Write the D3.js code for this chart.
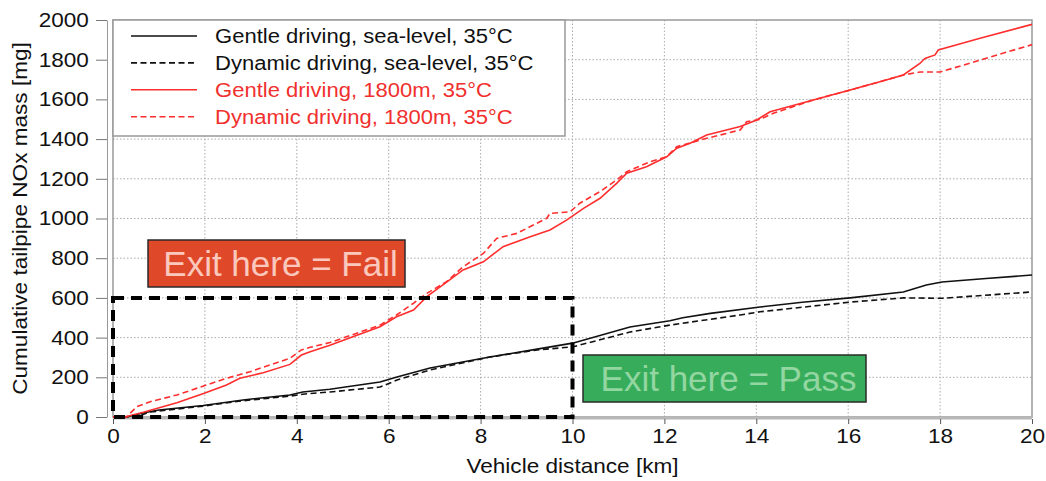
<!DOCTYPE html>
<html>
<head>
<meta charset="utf-8">
<script src="https://cdn.jsdelivr.net/npm/d3@7"></script>
<style>
  body { margin: 0; background: #fff; }
  svg { display: block; }
  text { font-family: "Liberation Sans", Arial, sans-serif; }
</style>
</head>
<body>
<div id="chart"></div>
<script>
// [km, mg]
const gentleSea = [[0,0],[0.3,0],[0.65,20],[1,35],[1.96,58],[2.83,86],[3.85,111],[4.13,126],[4.72,140],
  [5.81,176],[6.18,202],[6.9,247],[8.2,302],[9.23,342],[10,372],[11.25,453],[12.12,485],[12.4,500],
  [13,522],[14.08,554],[15,578],[16.04,600],[17.2,630],[17.7,665],[18.04,680],[19,698],[20,715]];
const dynamicSea = [[0,0],[0.5,0],[0.8,25],[1.96,55],[2.83,82],[3.85,105],[4.13,115],[4.72,126],
  [5.81,151],[6.18,186],[6.9,237],[8.2,302],[9.23,338],[10,353],[11.25,428],[12.12,463],[13.65,514],
  [14.08,530],[16.04,579],[17.2,600],[18.04,598],[20,630]];
const gentleAlt = [[0,0],[0.25,0],[0.66,24],[1.39,72],[1.97,118],[2.47,161],[2.76,195],[3.27,223],
  [3.85,265],[4.1,312],[4.29,329],[4.72,362],[5.81,455],[6.17,505],[6.54,539],[6.83,606],[7.12,656],
  [7.62,741],[8.06,782],[8.49,858],[9.08,908],[9.51,942],[9.87,992],[10.24,1051],[10.6,1102],
  [10.96,1177],[11.18,1228],[11.61,1261],[12.05,1311],[12.27,1354],[12.56,1379],[12.92,1421],
  [13.65,1463],[14.01,1496],[14.3,1538],[15.24,1597],[16.04,1647],[16.69,1689],[17.2,1723],
  [17.56,1781],[17.67,1806],[17.89,1824],[17.96,1849],[18.87,1908],[20,1978]];
const dynamicAlt = [[0,0],[0.3,0],[0.37,18],[0.52,52],[0.81,77],[1.39,111],[1.97,156],[2.47,195],
  [2.98,228],[3.85,296],[4.1,338],[4.29,351],[4.72,375],[5.81,463],[6.17,514],[6.54,573],[6.83,623],
  [7.26,682],[7.62,757],[8.06,824],[8.35,900],[8.79,925],[9.44,1001],[9.51,1026],[9.95,1034],
  [10.16,1077],[10.6,1136],[10.96,1194],[11.18,1236],[11.69,1286],[12.05,1311],[12.27,1362],
  [12.92,1404],[13.65,1446],[13.79,1488],[14.08,1499],[14.37,1530],[15.24,1597],[16.04,1647],
  [16.69,1689],[17.2,1723],[17.56,1738],[18.0,1738],[18.87,1798],[20,1876]];

const seriesNames = ["Gentle driving, sea-level, 35°C", "Dynamic driving, sea-level, 35°C",
  "Gentle driving, 1800m, 35°C", "Dynamic driving, 1800m, 35°C"];
const xTicks = [0, 2, 4, 6, 8, 10, 12, 14, 16, 18, 20];
const yTicks = [0, 200, 400, 600, 800, 1000, 1200, 1400, 1600, 1800, 2000];
const limitKm = 10, limitMg = 600;

const width = 1046, height = 481;
const margin = {top: 20, right: 14, bottom: 64, left: 113};
const red = "#ff2e2e";
const stretch = "scale(1.13,1)"; // source figure text is a bit wide

const series = [
  {name: seriesNames[0], data: gentleSea, color: "#111", dash: null},
  {name: seriesNames[1], data: dynamicSea, color: "#111", dash: "6,3.5"},
  {name: seriesNames[2], data: gentleAlt, color: red, dash: null},
  {name: seriesNames[3], data: dynamicAlt, color: red, dash: "6,3.5"}
];

const svg = d3.select("#chart").append("svg")
  .attr("width", width).attr("height", height);

const x = d3.scaleLinear().domain([0, 20]).range([margin.left, width - margin.right]);
const y = d3.scaleLinear().domain([0, 2000]).range([height - margin.bottom, margin.top]);

// grid
svg.append("g").selectAll("line").data(xTicks.slice(1, -1)).join("line")
  .attr("x1", d => x(d)).attr("x2", d => x(d))
  .attr("y1", y(2000)).attr("y2", y(0))
  .attr("stroke", "#aaa").attr("stroke-dasharray", "1.5,2");
svg.append("g").selectAll("line").data(yTicks.slice(1, -1)).join("line")
  .attr("x1", x(0)).attr("x2", x(20))
  .attr("y1", d => y(d)).attr("y2", d => y(d))
  .attr("stroke", "#aaa").attr("stroke-dasharray", "1.5,2");

// frame
svg.append("rect")
  .attr("x", x(0)).attr("y", y(2000))
  .attr("width", x(20) - x(0)).attr("height", y(0) - y(2000))
  .attr("fill", "none").attr("stroke", "#999").attr("stroke-width", 1.5);
svg.append("line")
  .attr("x1", x(0)).attr("x2", x(20)).attr("y1", y(0) + 1).attr("y2", y(0) + 1)
  .attr("stroke", "#b8b8b8").attr("stroke-width", 3);

// axes
const xAxis = g => g
  .attr("transform", `translate(0,${y(0) + 2})`)
  .call(d3.axisBottom(x).tickValues(xTicks).tickSize(5).tickSizeOuter(0).tickPadding(5))
  .call(g => g.select(".domain").remove())
  .call(g => g.selectAll(".tick line").attr("stroke", "#555"))
  .call(g => g.selectAll(".tick text").attr("fill", "#111").attr("transform", stretch)
    .style("font-size", "20px").style("font-family", "Liberation Sans, Arial, sans-serif"));

const yAxis = g => g
  .attr("transform", `translate(${x(0) - 6},0)`)
  .call(d3.axisLeft(y).tickValues(yTicks).tickFormat(d3.format("d"))
    .tickSize(11).tickSizeOuter(0).tickPadding(5))
  .call(g => g.select(".domain").attr("stroke", "#999"))
  .call(g => g.selectAll(".tick line").attr("stroke", "#777"))
  .call(g => g.selectAll(".tick text").attr("fill", "#111").attr("transform", stretch)
    .style("font-size", "20px").style("font-family", "Liberation Sans, Arial, sans-serif"));

svg.append("g").call(xAxis);
svg.append("g").call(yAxis);

svg.append("text")
  .attr("transform", `translate(${(x(0) + x(20)) / 2},473) ${stretch}`)
  .attr("text-anchor", "middle")
  .style("font-size", "20px").attr("fill", "#111")
  .text("Vehicle distance [km]");

svg.append("text")
  .attr("transform", `translate(27,${(y(0) + y(2000)) / 2}) rotate(-90) ${stretch}`)
  .attr("text-anchor", "middle")
  .style("font-size", "20px").attr("fill", "#111")
  .text("Cumulative tailpipe NOx mass [mg]");

// data lines
const line = d3.line().x(d => x(d[0])).y(d => y(d[1]));
svg.append("g").selectAll("path").data(series).join("path")
  .attr("d", d => line(d.data))
  .attr("fill", "none")
  .attr("stroke", d => d.color)
  .attr("stroke-width", 1.6)
  .attr("stroke-dasharray", d => d.dash);

// pass/fail limit box
svg.append("rect")
  .attr("x", x(0)).attr("y", y(limitMg))
  .attr("width", x(limitKm) - x(0)).attr("height", y(0) - y(limitMg))
  .attr("fill", "none").attr("stroke", "#000")
  .attr("stroke-width", 4).attr("stroke-dasharray", "11,7");

// annotations
function note(x0, y0, w, h, fill, textFill, label) {
  svg.append("rect")
    .attr("x", x0).attr("y", y0).attr("width", w).attr("height", h)
    .attr("fill", fill).attr("stroke", "#2a2a2a").attr("stroke-width", 1.5);
  svg.append("text")
    .attr("x", x0 + w / 2 + 4).attr("y", y0 + h / 2 + 12)
    .attr("text-anchor", "middle")
    .style("font-size", "35px").attr("fill", textFill)
    .text(label);
}
note(148, 240, 257, 47, "#e0482a", "#fbc8bd", "Exit here = Fail");
note(583, 355, 283, 47, "#37ad5b", "#93d6a2", "Exit here = Pass");

// legend
const lg = svg.append("g");
lg.append("rect")
  .attr("x", x(0)).attr("y", y(2000)).attr("width", 452).attr("height", 116)
  .attr("fill", "#fff").attr("stroke", "#999").attr("stroke-width", 1.5);
const item = lg.selectAll("g.item").data(series).join("g")
  .attr("transform", (d, i) => `translate(${x(0)},${36 + i * 26.9})`);
item.append("line")
  .attr("x1", 18).attr("x2", 84)
  .attr("stroke", d => d.color).attr("stroke-width", 1.6)
  .attr("stroke-dasharray", d => d.dash);
item.append("text")
  .attr("transform", `translate(102,7) ${stretch}`)
  .style("font-size", "19.5px")
  .attr("fill", d => d.color === red ? "#f0302e" : "#111")
  .text(d => d.name);
</script>
</body>
</html>
